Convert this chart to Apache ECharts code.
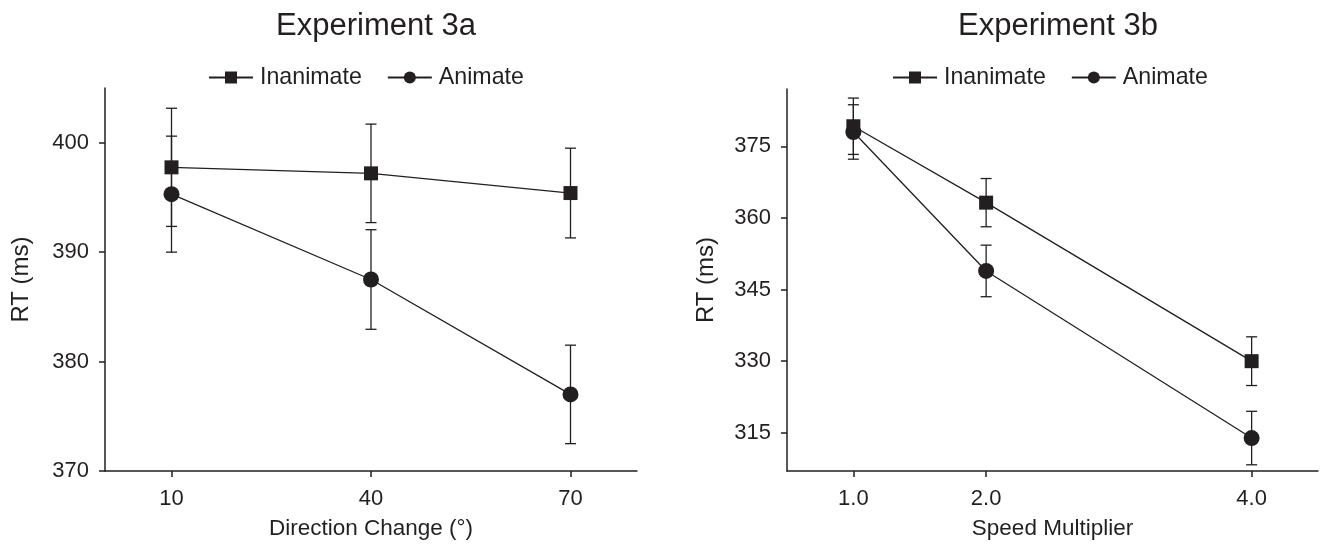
<!DOCTYPE html>
<html>
<head>
<meta charset="utf-8">
<title>Experiment 3a / 3b</title>
<script src="https://cdn.jsdelivr.net/npm/echarts@6/dist/echarts.min.js"></script>
<style>
  html, body { margin: 0; padding: 0; background: #fff; }
  #chart { width: 1320px; height: 553px; }
</style>
</head>
<body>
<div id="chart"></div>
<script>
// Experiment 3a: direction change (deg)
const dirChange = [10, 40, 70]
const inanimateA = [397.75, 397.2, 395.4]
const inanimateAErr = [5.4, 4.5, 4.1]
const animateA = [395.3, 387.5, 377.0]
const animateAErr = [5.3, 4.55, 4.5]
const ticksA = [370, 380, 390, 400]

// Experiment 3b: speed multiplier
const speedMult = [1, 2, 4]
const inanimateB = [379.2, 363.2, 330.0]
const inanimateBErr = [5.9, 5.05, 5.1]
const animateB = [378.0, 348.9, 313.9]
const animateBErr = [5.7, 5.4, 5.6]
const ticksB = [315, 330, 345, 360, 375]

const ink = '#231f20'
const font = "'Liberation Sans', Arial, Helvetica, sans-serif"

function pairs(xs, ys) {
    return xs.map((x, i) => [x, ys[i]])
}
function errRows(xs, ys, es) {
    return xs.map((x, i) => [x, ys[i] - es[i], ys[i] + es[i]])
}

function drawErr(params, api) {
    const x = api.value(0)
    const lo = api.coord([x, api.value(1)])
    const hi = api.coord([x, api.value(2)])
    const cap = 5.5
    const style = { stroke: ink, lineWidth: 1.3, fill: null }
    return {
        type: 'group',
        children: [
            { type: 'line', shape: { x1: hi[0], y1: hi[1], x2: lo[0], y2: lo[1] }, style: style },
            { type: 'line', shape: { x1: hi[0] - cap, y1: hi[1], x2: hi[0] + cap, y2: hi[1] }, style: style },
            { type: 'line', shape: { x1: lo[0] - cap, y1: lo[1], x2: lo[0] + cap, y2: lo[1] }, style: style }
        ]
    }
}

function xAxisOf(idx, min, max, ticks, name, fmt) {
    return {
        type: 'value', gridIndex: idx, min: min, max: max,
        name: name, nameLocation: 'middle', nameGap: 46,
        nameTextStyle: { color: ink, fontSize: 22.5, fontFamily: font },
        axisLine: { lineStyle: { color: ink, width: 1.5 } },
        axisTick: { show: true, length: 6, customValues: ticks, lineStyle: { color: ink, width: 1.5 } },
        axisLabel: { customValues: ticks, margin: 17, color: ink, fontSize: 22, fontFamily: font, formatter: fmt },
        splitLine: { show: false }
    }
}
function yAxisOf(idx, min, max, ticks, gap) {
    return {
        type: 'value', gridIndex: idx, min: min, max: max,
        name: 'RT (ms)', nameLocation: 'middle', nameGap: gap, nameRotate: 90,
        nameTextStyle: { color: ink, fontSize: 24, fontFamily: font },
        axisLine: { show: true, lineStyle: { color: ink, width: 1.5 } },
        axisTick: { show: true, length: 6, customValues: ticks, lineStyle: { color: ink, width: 1.5 } },
        axisLabel: { customValues: ticks, margin: 16, color: ink, fontSize: 22, fontFamily: font },
        splitLine: { show: false }
    }
}
function lineSeries(name, idx, data, symbol, size) {
    return {
        name: name, type: 'line', xAxisIndex: idx, yAxisIndex: idx,
        data: data, symbol: symbol, symbolSize: size, z: 3,
        lineStyle: { color: ink, width: 1.3 },
        itemStyle: { color: ink, borderWidth: 0 },
        emphasis: { disabled: true }, animation: false
    }
}
function errSeries(idx, rows) {
    return {
        type: 'custom', xAxisIndex: idx, yAxisIndex: idx,
        renderItem: drawErr, data: rows, z: 2, animation: false, silent: true
    }
}
function legendAt(left) {
    return {
        data: ['Inanimate', 'Animate'], left: left, top: 66, padding: 0,
        itemWidth: 44, itemHeight: 15, itemGap: 25, selectedMode: false,
        textStyle: { color: ink, fontSize: 23.2, fontFamily: font, padding: [0, 0, 0, 2] }
    }
}
function titleAt(text, left) {
    return {
        text: text, left: left, top: 6, textAlign: 'center',
        textStyle: { color: ink, fontSize: 31, fontWeight: 'normal', fontFamily: font }
    }
}

const myChart = echarts.init(document.getElementById('chart'))
const option = {
    backgroundColor: '#fff',
    animation: false,
    title: [titleAt('Experiment 3a', 371), titleAt('Experiment 3b', 1053)],
    legend: [legendAt(208), legendAt(892)],
    grid: [
        { left: 105, top: 88, width: 532, height: 383 },
        { left: 787, top: 89, width: 531, height: 382 }
    ],
    xAxis: [
        xAxisOf(0, 0, 80, dirChange, 'Direction Change (°)', v => String(v)),
        xAxisOf(1, 0.5, 4.5, speedMult, 'Speed Multiplier', v => v.toFixed(1))
    ],
    yAxis: [
        yAxisOf(0, 370, 405, ticksA, 72),
        yAxisOf(1, 307, 387, ticksB, 69)
    ],
    series: [
        errSeries(0, errRows(dirChange, inanimateA, inanimateAErr)),
        errSeries(0, errRows(dirChange, animateA, animateAErr)),
        lineSeries('Inanimate', 0, pairs(dirChange, inanimateA), 'rect', 14),
        lineSeries('Animate', 0, pairs(dirChange, animateA), 'circle', 16),
        errSeries(1, errRows(speedMult, inanimateB, inanimateBErr)),
        errSeries(1, errRows(speedMult, animateB, animateBErr)),
        lineSeries('Inanimate', 1, pairs(speedMult, inanimateB), 'rect', 14),
        lineSeries('Animate', 1, pairs(speedMult, animateB), 'circle', 16)
    ]
}
option && myChart.setOption(option)
</script>
</body>
</html>
